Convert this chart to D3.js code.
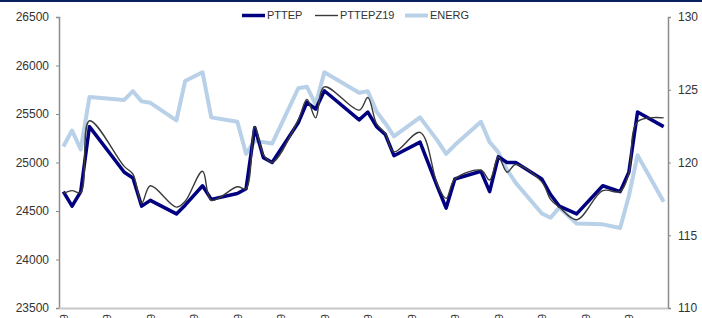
<!DOCTYPE html>
<html>
<head>
<meta charset="utf-8">
<script src="https://cdn.jsdelivr.net/npm/d3@7"></script>
<style>
  body { margin: 0; background: #fff; }
  text { font-family: "Liberation Sans", Arial, sans-serif; fill: #333; }
</style>
</head>
<body>
<div id="chart"></div>
<script>
// category positions (trading-day index) of each reading
var dayIdx = [0, 1, 2, 3, 7, 8, 9, 10, 13, 14, 16, 17, 20, 21, 22, 23, 24, 27, 28, 29, 30,
  34, 35, 36, 37, 38, 41, 43, 44, 45, 48, 49, 50, 51, 52, 55, 56, 57, 59, 62, 64, 65, 66, 69];

// left axis series
var pttep = [24700, 24550, 24700, 25370, 24900, 24840, 24550, 24610, 24470, 24560, 24760, 24620,
  24680, 24730, 25360, 25050, 25000, 25410, 25620, 25550, 25740, 25440, 25520, 25370, 25290, 25070,
  25210, 24750, 24530, 24830, 24910, 24700, 25060, 25000, 25000, 24830, 24670, 24550, 24470, 24760,
  24700, 24900, 25520, 25370];
var pttepz19 = [24680, 24710, 24690, 25430, 24960, 24880, 24580, 24760, 24540, 24600, 24910, 24610,
  24750, 24730, 25370, 25080, 25000, 25440, 25650, 25460, 25780, 25540, 25670, 25400, 25300, 25110,
  25310, 24770, 24630, 24830, 24920, 24820, 25060, 24900, 24980, 24800, 24620, 24540, 24410, 24710,
  24700, 24890, 25420, 25460];

// right axis series
var energ = [121.1, 122.2, 120.9, 124.5, 124.3, 124.9, 124.2, 124.1, 122.9, 125.6, 126.2, 123.1,
  122.8, 120.6, 121.5, 121.4, 121.3, 125.1, 125.2, 124.0, 126.2, 124.8, 124.9, 123.5, 122.7, 121.8,
  123.1, 121.5, 120.6, 121.2, 122.8, 121.4, 120.7, 119.5, 118.6, 116.5, 116.2, 116.9, 115.8, 115.75,
  115.5, 117.7, 120.5, 117.3];

var leftTicks = [23500, 24000, 24500, 25000, 25500, 26000, 26500];
var rightTicks = [110, 115, 120, 125, 130];
var xLabels = ["2-Sep-19", "9-Sep-19", "16-Sep-19", "23-Sep-19", "30-Sep-19", "7-Oct-19", "14-Oct-19",
  "21-Oct-19", "28-Oct-19", "4-Nov-19", "11-Nov-19", "18-Nov-19", "25-Nov-19", "2-Dec-19"];
var seriesNames = ["PTTEP", "PTTEPZ19", "ENERG"];

var svgWidth = 702;
var svgHeight = 318;

var svg = d3.select("#chart")
  .append("svg")
  .attr("width", svgWidth)
  .attr("height", svgHeight);

// dark rule across the top
svg.append("rect")
  .attr("x", 0).attr("y", 0)
  .attr("width", svgWidth).attr("height", 2)
  .attr("fill", "#0b1f5c");

var plotLeft = 59, plotRight = 668, plotTop = 17, plotBottom = 308;

var xScale = d3.scaleLinear().domain([-0.5, 69.5]).range([plotLeft, plotRight]);
var yLeft = d3.scaleLinear().domain([23500, 26500]).range([plotBottom, plotTop]);
var yRight = d3.scaleLinear().domain([110, 130]).range([plotBottom, plotTop]);

// left axis
var leftAxis = svg.append("g")
  .attr("transform", `translate(${plotLeft},0)`)
  .call(d3.axisLeft(yLeft).tickValues(leftTicks).tickSize(3).tickPadding(7).tickFormat(d3.format("d")));

// right axis
var rightAxis = svg.append("g")
  .attr("transform", `translate(${plotRight},0)`)
  .call(d3.axisRight(yRight).tickValues(rightTicks).tickSize(3).tickPadding(7).tickFormat(d3.format("d")));

[leftAxis, rightAxis].forEach(function(ax) {
  ax.select(".domain").attr("stroke", "#8c8c8c").attr("stroke-width", 1.5);
  ax.selectAll(".tick line").attr("stroke", "#8c8c8c");
  ax.selectAll(".tick text")
    .attr("font-size", "12px")
    .attr("font-family", "Liberation Sans, Arial, sans-serif")
    .attr("fill", "#333");
});

// bottom axis (labels rotated, mostly clipped by the frame)
var bottomAxis = svg.append("g")
  .attr("transform", `translate(0,${plotBottom})`)
  .call(d3.axisBottom(xScale)
    .tickValues(d3.range(0, 70, 5))
    .tickSize(0)
    .tickFormat(function(d, i) { return xLabels[i]; }));

bottomAxis.select(".domain")
  .attr("d", `M${plotLeft},0.5H${plotRight}`)
  .attr("stroke", "#c8c8c8")
  .attr("stroke-width", 2);

bottomAxis.selectAll(".tick text")
  .attr("font-size", "11px")
  .attr("font-family", "Liberation Sans, Arial, sans-serif")
  .attr("fill", "#444")
  .attr("text-anchor", "end")
  .attr("transform", "rotate(-90)")
  .attr("x", -6)
  .attr("y", 0)
  .attr("dy", "0.35em");

var rows = dayIdx.map(function(d, i) {
  return { day: d, pttep: pttep[i], z19: pttepz19[i], energ: energ[i] };
});

var energLine = d3.line()
  .x(d => xScale(d.day))
  .y(d => yRight(d.energ));

var pttepLine = d3.line()
  .x(d => xScale(d.day))
  .y(d => yLeft(d.pttep));

var z19Line = d3.line()
  .curve(d3.curveCatmullRom.alpha(0.5))
  .x(d => xScale(d.day))
  .y(d => yLeft(d.z19));

svg.append("path")
  .datum(rows)
  .attr("d", energLine)
  .attr("fill", "none")
  .attr("stroke", "#b8d0e8")
  .attr("stroke-width", 4)
  .attr("stroke-linejoin", "round");

svg.append("path")
  .datum(rows)
  .attr("d", pttepLine)
  .attr("fill", "none")
  .attr("stroke", "#000080")
  .attr("stroke-width", 3.5)
  .attr("stroke-linejoin", "round");

svg.append("path")
  .datum(rows)
  .attr("d", z19Line)
  .attr("fill", "none")
  .attr("stroke", "#3a3a3a")
  .attr("stroke-width", 1.4);

// legend
var legendItems = [
  { name: seriesNames[0], x: 242, color: "#000080", width: 3.5 },
  { name: seriesNames[1], x: 315, color: "#3a3a3a", width: 1.4 },
  { name: seriesNames[2], x: 405, color: "#b8d0e8", width: 4 }
];

var legend = svg.append("g").attr("transform", "translate(0,15.5)");

legend.selectAll("line")
  .data(legendItems)
  .enter()
  .append("line")
  .attr("x1", d => d.x)
  .attr("x2", d => d.x + 23)
  .attr("y1", 0)
  .attr("y2", 0)
  .attr("stroke", d => d.color)
  .attr("stroke-width", d => d.width);

legend.selectAll("text")
  .data(legendItems)
  .enter()
  .append("text")
  .attr("x", d => d.x + 25)
  .attr("y", 0)
  .attr("dy", "0.35em")
  .attr("font-size", "11px")
  .attr("fill", "#222")
  .text(d => d.name);
</script>
</body>
</html>
